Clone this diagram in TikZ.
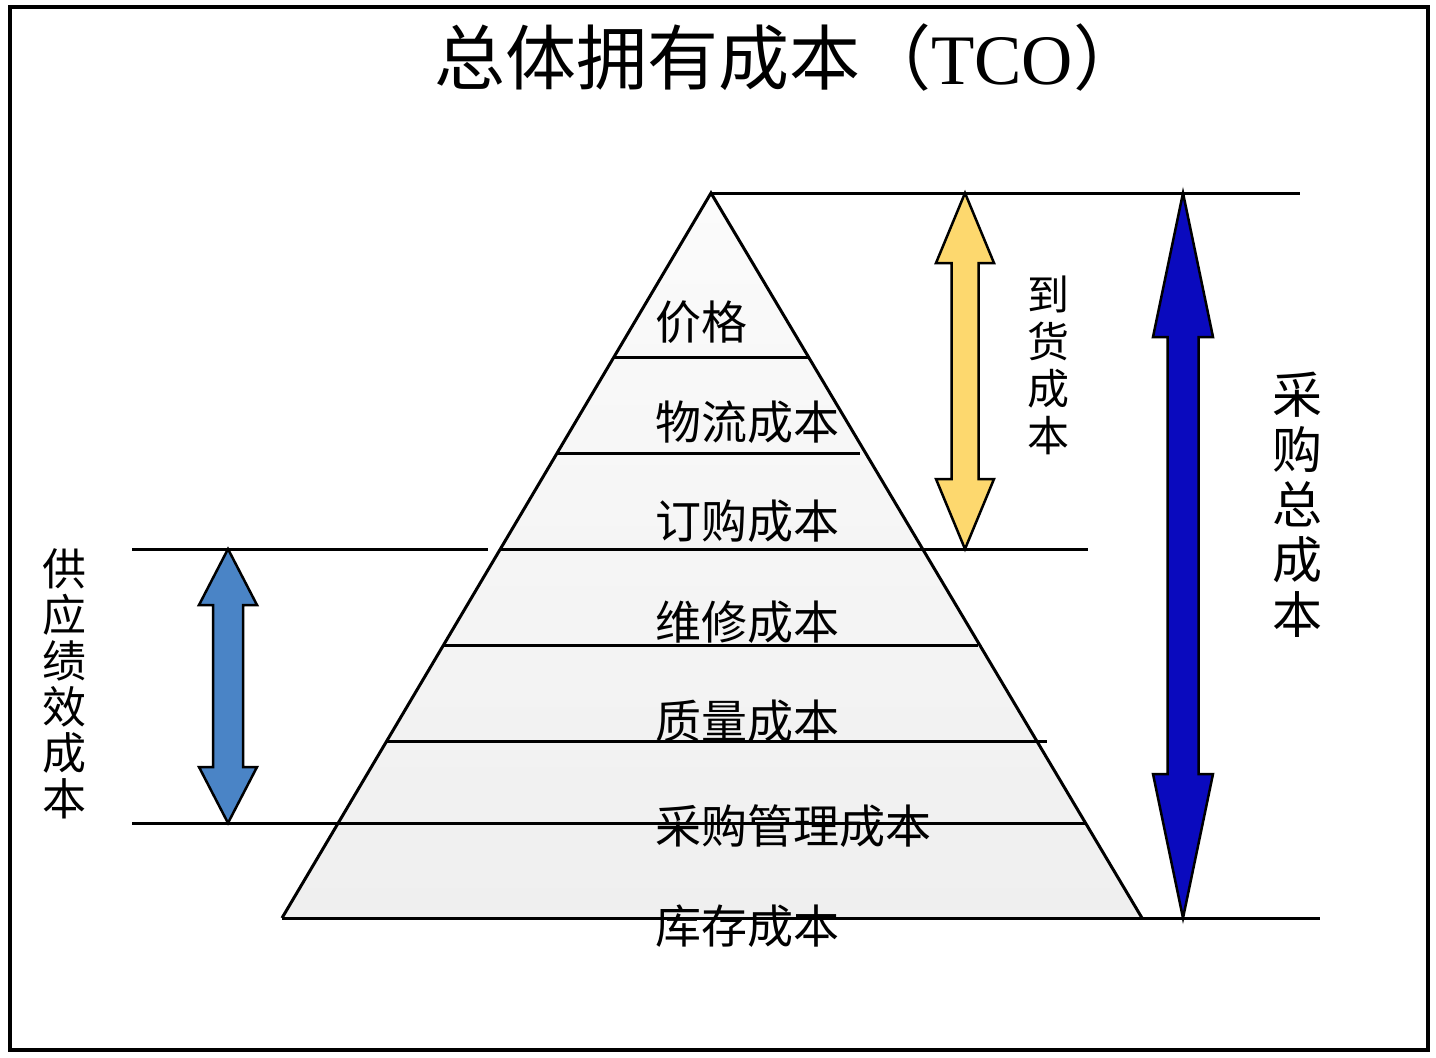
\documentclass[tikz,border=0pt]{standalone}
\usepackage{fontspec}
\setmainfont{Noto Sans CJK SC}
\newfontfamily\serifen{Liberation Serif}
\definecolor{goldfill}{HTML}{FDD86E}
\definecolor{navyfill}{HTML}{0A0ABE}
\definecolor{steelfill}{HTML}{4A84C6}
\definecolor{pyrtop}{HTML}{FBFBFB}
\definecolor{pyrbot}{HTML}{EFEFEF}
\tikzset{
  rule/.style={line width=3pt, line cap=butt},
  blockarrow/.style={draw=black, line width=2.5pt, line join=miter},
  lbl/.style={anchor=base west, inner sep=0pt, font=\fontsize{46}{50}\selectfont},
  vtext/.style={align=center, inner sep=0pt},
}
% #1 colour, #2 x, #3 ytop, #4 ybot, #5 head length, #6 head half width, #7 shaft half width
\newcommand\mydblarrow[7]{%
  \draw[blockarrow, fill=#1]
    (#2,#3) -- ({#2+#6},{#3+#5}) -- ({#2+#7},{#3+#5}) -- ({#2+#7},{#4-#5})
    -- ({#2+#6},{#4-#5}) -- (#2,#4) -- ({#2-#6},{#4-#5}) -- ({#2-#7},{#4-#5})
    -- ({#2-#7},{#3+#5}) -- ({#2-#6},{#3+#5}) -- cycle;}
\begin{document}
\begin{tikzpicture}[x=1pt,y=-1pt]
\useasboundingbox (0,0) rectangle (1436,1058);
\fill[white] (0,0) rectangle (1436,1058);
\draw[line width=3.5pt] (10,7) rectangle (1428,1050);

% title
\node (title) at (789,58) {\fontsize{71}{80}\selectfont 总体拥有成本（{\serifen TCO}）};

% pyramid
\coordinate (apex) at (711,193);
\coordinate (bl) at (282,918);
\coordinate (br) at (1142,918);
\shade[top color=pyrtop, bottom color=pyrbot] (apex) -- (br) -- (bl) -- cycle;
\draw[rule, line join=miter] (bl) -- (apex) -- (br);

% horizontal rules
\draw[rule] (apex) -- (1300,193);
\draw[rule] (614,357) -- (808,357);
\draw[rule] (557,453) -- (860,453);
\draw[rule] (500,549) -- (1088,549);
\draw[rule] (132,549) -- (488,549);
\draw[rule] (443,645) -- (978,645);
\draw[rule] (387,741) -- (1047,741);
\draw[rule] (132,823) -- (1085,823);
\draw[rule] (bl) -- (1320,918);

% block arrows
\mydblarrow{goldfill}{965}{193}{549}{70}{29}{13.5}
\mydblarrow{navyfill}{1183}{193}{918}{144}{30}{15.5}
\mydblarrow{steelfill}{228}{549}{823}{56}{29}{15}

% layer labels
\node[lbl] (l1) at (655,339) {价格};
\node[lbl] (l2) at (655,439) {物流成本};
\node[lbl] (l3) at (655,538) {订购成本};
\node[lbl] (l4) at (655,639) {维修成本};
\node[lbl] (l5) at (655,738) {质量成本};
\node[lbl] (l6) at (655,843) {采购管理成本};
\node[lbl] (l7) at (655,943) {库存成本};

% vertical labels
\node[vtext, font=\fontsize{42}{47}\selectfont] (arr) at (1048,365) {到\\货\\成\\本};
\node[vtext, font=\fontsize{50}{55}\selectfont] (tot) at (1297,505) {采\\购\\总\\成\\本};
\node[vtext, font=\fontsize{44}{46}\selectfont] (sup) at (64,684) {供\\应\\绩\\效\\成\\本};
\end{tikzpicture}
\end{document}
